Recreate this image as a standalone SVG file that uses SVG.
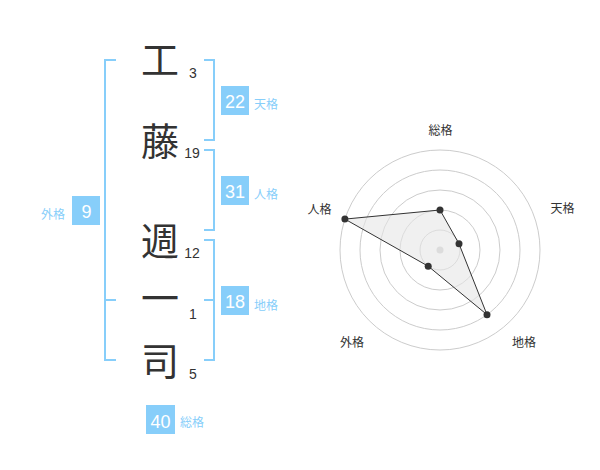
<svg xmlns="http://www.w3.org/2000/svg" width="600" height="470" viewBox="0 0 600 470">
<style>
.kanji{font-family:"Noto Sans CJK JP","Noto Sans CJK SC",sans-serif;font-size:38px;fill:#333;text-anchor:middle}
.stroke{font-family:"Liberation Sans",Arial,sans-serif;font-size:14px;fill:#333;text-anchor:middle}
.box{fill:#87cefa}
.num{font-family:"Liberation Sans",Arial,sans-serif;font-size:18px;fill:#fff;text-anchor:middle}
.lbl{font-family:"Noto Sans CJK JP","Noto Sans CJK SC",sans-serif;font-size:12px;fill:#87cefa}
.br{fill:none;stroke:#87cefa;stroke-width:2}
.ring{fill:none;stroke:#ccc;stroke-width:1}
.axis{font-family:"Noto Sans CJK JP","Noto Sans CJK SC",sans-serif;font-size:12px;fill:#333;text-anchor:middle}
.dot{fill:#333}
</style>
<rect width="600" height="470" fill="#fff"/>
<g id="connectors">
<path class="br" d="M116,60 H105 V360 H116 M105,300 H116"/>
<path class="br" d="M204,60 H214 V140 H204"/>
<path class="br" d="M204,150 H214 V230 H204"/>
<path class="br" d="M204,240 H214 V360 H204 M214,300 H204"/>
</g>
<g id="char1"><text class="kanji" x="160" y="74">工</text><text class="stroke" x="193" y="78">3</text></g>
<g id="char2"><text class="kanji" x="160" y="155">藤</text><text class="stroke" x="192" y="158">19</text></g>
<g id="char3"><text class="kanji" x="160" y="255">週</text><text class="stroke" x="192" y="258">12</text></g>
<g id="char4"><text class="kanji" x="160" y="312">一</text><text class="stroke" x="193" y="319">1</text></g>
<g id="char5"><text class="kanji" x="160" y="375">司</text><text class="stroke" x="193" y="379">5</text></g>
<g id="tenkaku"><rect class="box" x="221" y="86" width="28" height="29"/><text class="num" x="235" y="108">22</text><text class="lbl" x="254" y="108.5">天格</text></g>
<g id="jinkaku"><rect class="box" x="221" y="176" width="28" height="29"/><text class="num" x="235" y="198">31</text><text class="lbl" x="254" y="198.5">人格</text></g>
<g id="chikaku"><rect class="box" x="221" y="286" width="28" height="29"/><text class="num" x="235" y="308">18</text><text class="lbl" x="254" y="309.5">地格</text></g>
<g id="gaikaku"><rect class="box" x="72" y="196" width="28" height="29"/><text class="num" x="86.5" y="217.5">9</text><text class="lbl" x="41" y="218.5">外格</text></g>
<g id="soukaku"><rect class="box" x="146" y="405" width="29" height="29"/><text class="num" x="160.5" y="427.5">40</text><text class="lbl" x="180" y="427">総格</text></g>
<g id="radar">
<circle class="ring" cx="440" cy="250" r="100"/>
<circle class="ring" cx="440" cy="250" r="80"/>
<circle class="ring" cx="440" cy="250" r="60"/>
<circle class="ring" cx="440" cy="250" r="40"/>
<circle class="ring" cx="440" cy="250" r="20"/>
<circle cx="440" cy="250" r="3.5" fill="#ccc"/>
<polygon points="440,210 459,243.8 487,314.7 428.2,266.2 344.9,219.1" fill="#e6e6e6" fill-opacity="0.6" stroke="#333" stroke-width="1"/>
<circle class="dot" cx="440" cy="210" r="3.5"/>
<circle class="dot" cx="459" cy="243.8" r="3.5"/>
<circle class="dot" cx="487" cy="314.7" r="3.5"/>
<circle class="dot" cx="428.2" cy="266.2" r="3.5"/>
<circle class="dot" cx="344.9" cy="219.1" r="3.5"/>
<text class="axis" x="440.5" y="134.5">総格</text>
<text class="axis" x="562.5" y="213">天格</text>
<text class="axis" x="524" y="346.5">地格</text>
<text class="axis" x="352" y="346.5">外格</text>
<text class="axis" x="319.5" y="213.5">人格</text>
</g>
</svg>
